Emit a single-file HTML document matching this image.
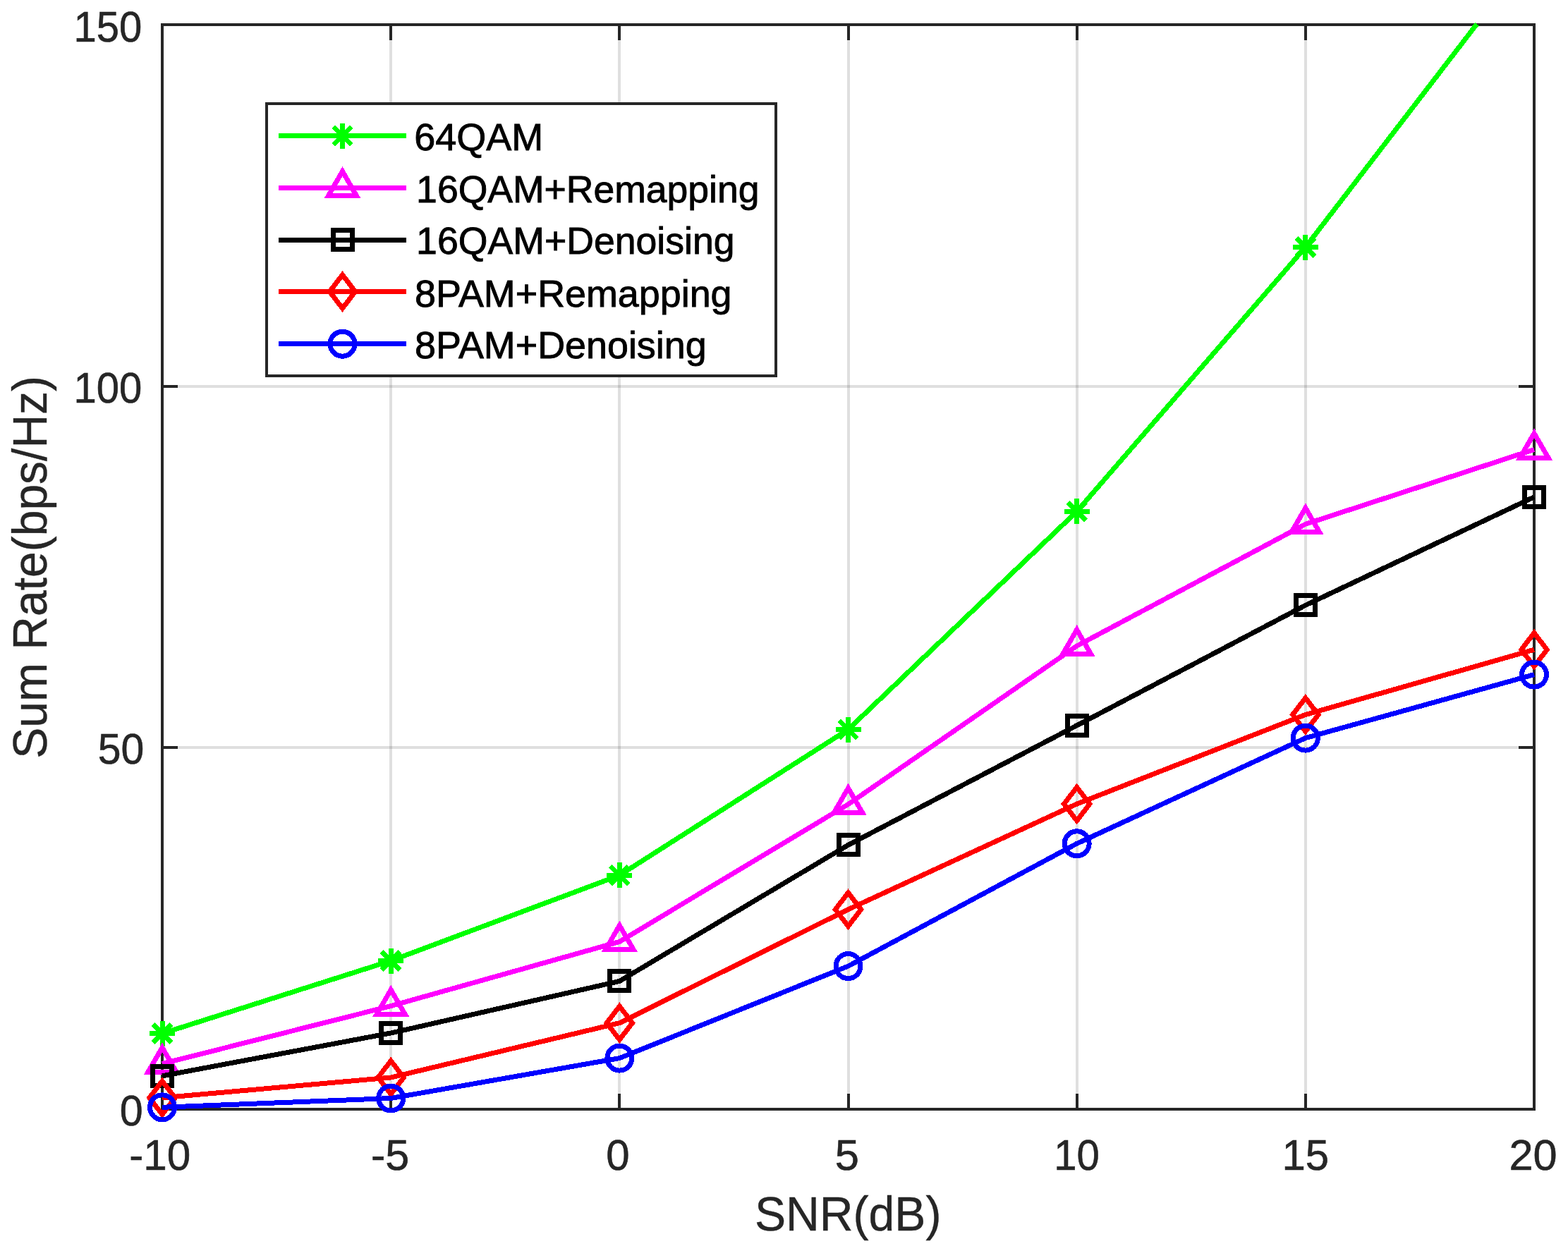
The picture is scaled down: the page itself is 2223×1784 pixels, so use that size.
<!DOCTYPE html><html><head><meta charset="utf-8"><title>Sum Rate vs SNR</title><style>html,body{margin:0;padding:0;background:#fff;overflow:hidden;}svg{display:block;}text{font-family:"Liberation Sans",Arial,Helvetica,sans-serif;}</style></head><body>
<svg width="2223" height="1784" viewBox="0 0 2223 1784">
<rect width="2223" height="1784" fill="#fff"/>
<g stroke="#262626" stroke-opacity="0.15" stroke-width="4"><line x1="554" y1="35" x2="554" y2="1573"/><line x1="878" y1="35" x2="878" y2="1573"/><line x1="1203" y1="35" x2="1203" y2="1573"/><line x1="1527" y1="35" x2="1527" y2="1573"/><line x1="1851" y1="35" x2="1851" y2="1573"/><line x1="230" y1="1060" x2="2175" y2="1060"/><line x1="230" y1="548" x2="2175" y2="548"/></g>
<path d="M554 1573V1551M554 35V57M878 1573V1551M878 35V57M1203 1573V1551M1203 35V57M1527 1573V1551M1527 35V57M1851 1573V1551M1851 35V57M230 1060H252M2175 1060H2153M230 548H252M2175 548H2153" stroke="#262626" stroke-width="4" fill="none"/>
<rect x="230" y="35" width="1945" height="1538" stroke="#262626" stroke-width="4" fill="none"/>
<g shape-rendering="crispEdges">
<path d="M230 1465.6L554.17 1362.5L878.33 1241.3L1202.5 1034.5L1526.67 725.3L1850.83 350.5L2093.84 34" stroke="#00ff00" stroke-width="7" fill="none" stroke-linejoin="round"/>
<path d="M212 1465.6H248M230 1447.6V1483.6M217.1 1452.7L242.9 1478.5M217.1 1478.5L242.9 1452.7" stroke="#00ff00" stroke-width="7" fill="none"/>
<path d="M536.17 1362.5H572.17M554.17 1344.5V1380.5M541.27 1349.6L567.07 1375.4M541.27 1375.4L567.07 1349.6" stroke="#00ff00" stroke-width="7" fill="none"/>
<path d="M860.33 1241.3H896.33M878.33 1223.3V1259.3M865.43 1228.4L891.23 1254.2M865.43 1254.2L891.23 1228.4" stroke="#00ff00" stroke-width="7" fill="none"/>
<path d="M1184.5 1034.5H1220.5M1202.5 1016.5V1052.5M1189.6 1021.6L1215.4 1047.4M1189.6 1047.4L1215.4 1021.6" stroke="#00ff00" stroke-width="7" fill="none"/>
<path d="M1508.67 725.3H1544.67M1526.67 707.3V743.3M1513.77 712.4L1539.57 738.2M1513.77 738.2L1539.57 712.4" stroke="#00ff00" stroke-width="7" fill="none"/>
<path d="M1832.83 350.5H1868.83M1850.83 332.5V368.5M1837.93 337.6L1863.73 363.4M1837.93 363.4L1863.73 337.6" stroke="#00ff00" stroke-width="7" fill="none"/>
<path d="M230 1508.5L554.17 1426.6L878.33 1335.4L1202.5 1140.6L1526.67 916L1850.83 743.3L2175 637.5" stroke="#ff00ff" stroke-width="7" fill="none" stroke-linejoin="round"/>
<path d="M230 1485.5L249.92 1520L210.08 1520Z" stroke="#ff00ff" stroke-width="7" fill="none" stroke-linejoin="miter" stroke-miterlimit="10"/>
<path d="M554.17 1403.6L574.09 1438.1L534.25 1438.1Z" stroke="#ff00ff" stroke-width="7" fill="none" stroke-linejoin="miter" stroke-miterlimit="10"/>
<path d="M878.33 1312.4L898.25 1346.9L858.41 1346.9Z" stroke="#ff00ff" stroke-width="7" fill="none" stroke-linejoin="miter" stroke-miterlimit="10"/>
<path d="M1202.5 1117.6L1222.42 1152.1L1182.58 1152.1Z" stroke="#ff00ff" stroke-width="7" fill="none" stroke-linejoin="miter" stroke-miterlimit="10"/>
<path d="M1526.67 893L1546.59 927.5L1506.75 927.5Z" stroke="#ff00ff" stroke-width="7" fill="none" stroke-linejoin="miter" stroke-miterlimit="10"/>
<path d="M1850.83 720.3L1870.75 754.8L1830.91 754.8Z" stroke="#ff00ff" stroke-width="7" fill="none" stroke-linejoin="miter" stroke-miterlimit="10"/>
<path d="M2175 614.5L2194.92 649L2155.08 649Z" stroke="#ff00ff" stroke-width="7" fill="none" stroke-linejoin="miter" stroke-miterlimit="10"/>
<path d="M230 1525.8L554.17 1465L878.33 1391.4L1202.5 1198.3L1526.67 1028.8L1850.83 858.3L2175 704.8" stroke="#000000" stroke-width="7" fill="none" stroke-linejoin="round"/>
<rect x="216.5" y="1512.3" width="27" height="27" stroke="#000000" stroke-width="7" fill="none"/>
<rect x="540.67" y="1451.5" width="27" height="27" stroke="#000000" stroke-width="7" fill="none"/>
<rect x="864.83" y="1377.9" width="27" height="27" stroke="#000000" stroke-width="7" fill="none"/>
<rect x="1189" y="1184.8" width="27" height="27" stroke="#000000" stroke-width="7" fill="none"/>
<rect x="1513.17" y="1015.3" width="27" height="27" stroke="#000000" stroke-width="7" fill="none"/>
<rect x="1837.33" y="844.8" width="27" height="27" stroke="#000000" stroke-width="7" fill="none"/>
<rect x="2161.5" y="691.3" width="27" height="27" stroke="#000000" stroke-width="7" fill="none"/>
<path d="M230 1556.8L554.17 1528L878.33 1450.7L1202.5 1289.7L1526.67 1140.1L1850.83 1013.5L2175 921.3" stroke="#ff0000" stroke-width="7" fill="none" stroke-linejoin="round"/>
<path d="M230 1533.1L248.2 1556.8L230 1580.5L211.8 1556.8Z" stroke="#ff0000" stroke-width="7" fill="none" stroke-linejoin="miter" stroke-miterlimit="10"/>
<path d="M554.17 1504.3L572.37 1528L554.17 1551.7L535.97 1528Z" stroke="#ff0000" stroke-width="7" fill="none" stroke-linejoin="miter" stroke-miterlimit="10"/>
<path d="M878.33 1427L896.53 1450.7L878.33 1474.4L860.13 1450.7Z" stroke="#ff0000" stroke-width="7" fill="none" stroke-linejoin="miter" stroke-miterlimit="10"/>
<path d="M1202.5 1266L1220.7 1289.7L1202.5 1313.4L1184.3 1289.7Z" stroke="#ff0000" stroke-width="7" fill="none" stroke-linejoin="miter" stroke-miterlimit="10"/>
<path d="M1526.67 1116.4L1544.87 1140.1L1526.67 1163.8L1508.47 1140.1Z" stroke="#ff0000" stroke-width="7" fill="none" stroke-linejoin="miter" stroke-miterlimit="10"/>
<path d="M1850.83 989.8L1869.03 1013.5L1850.83 1037.2L1832.63 1013.5Z" stroke="#ff0000" stroke-width="7" fill="none" stroke-linejoin="miter" stroke-miterlimit="10"/>
<path d="M2175 897.6L2193.2 921.3L2175 945L2156.8 921.3Z" stroke="#ff0000" stroke-width="7" fill="none" stroke-linejoin="miter" stroke-miterlimit="10"/>
<path d="M230 1570.3L554.17 1557.5L878.33 1500.6L1202.5 1370.1L1526.67 1196.3L1850.83 1046.6L2175 956.6" stroke="#0000ff" stroke-width="7" fill="none" stroke-linejoin="round"/>
<circle cx="230" cy="1570.3" r="17.5" stroke="#0000ff" stroke-width="7" fill="none"/>
<circle cx="554.17" cy="1557.5" r="17.5" stroke="#0000ff" stroke-width="7" fill="none"/>
<circle cx="878.33" cy="1500.6" r="17.5" stroke="#0000ff" stroke-width="7" fill="none"/>
<circle cx="1202.5" cy="1370.1" r="17.5" stroke="#0000ff" stroke-width="7" fill="none"/>
<circle cx="1526.67" cy="1196.3" r="17.5" stroke="#0000ff" stroke-width="7" fill="none"/>
<circle cx="1850.83" cy="1046.6" r="17.5" stroke="#0000ff" stroke-width="7" fill="none"/>
<circle cx="2175" cy="956.6" r="17.5" stroke="#0000ff" stroke-width="7" fill="none"/>
</g>
<rect x="378" y="147" width="722" height="386" fill="#fff" stroke="#262626" stroke-width="4"/>
<g shape-rendering="crispEdges">
<line x1="395" y1="192.5" x2="576" y2="192.5" stroke="#00ff00" stroke-width="7"/>
<path d="M467.5 192.5H503.5M485.5 174.5V210.5M472.6 179.6L498.4 205.4M472.6 205.4L498.4 179.6" stroke="#00ff00" stroke-width="7" fill="none"/>
<text x="587.16" y="213.4" font-size="54.5" fill="#000" textLength="182.97" lengthAdjust="spacingAndGlyphs" stroke="#000" stroke-width="0.9" shape-rendering="auto">64QAM</text>
<line x1="395" y1="266" x2="576" y2="266" stroke="#ff00ff" stroke-width="7"/>
<path d="M485.5 243L505.42 277.5L465.58 277.5Z" stroke="#ff00ff" stroke-width="7" fill="none" stroke-linejoin="miter" stroke-miterlimit="10"/>
<text x="590.12" y="286.9" font-size="54.5" fill="#000" textLength="486.43" lengthAdjust="spacingAndGlyphs" stroke="#000" stroke-width="0.9" shape-rendering="auto">16QAM+Remapping</text>
<line x1="395" y1="340" x2="576" y2="340" stroke="#000000" stroke-width="7"/>
<rect x="472" y="326.5" width="27" height="27" stroke="#000000" stroke-width="7" fill="none"/>
<text x="590.12" y="360.3" font-size="54.5" fill="#000" textLength="451.54" lengthAdjust="spacingAndGlyphs" stroke="#000" stroke-width="0.9" shape-rendering="auto">16QAM+Denoising</text>
<line x1="395" y1="413.5" x2="576" y2="413.5" stroke="#ff0000" stroke-width="7"/>
<path d="M485.5 389.8L503.7 413.5L485.5 437.2L467.3 413.5Z" stroke="#ff0000" stroke-width="7" fill="none" stroke-linejoin="miter" stroke-miterlimit="10"/>
<text x="588.08" y="434.7" font-size="54.5" fill="#000" textLength="449.46" lengthAdjust="spacingAndGlyphs" stroke="#000" stroke-width="0.9" shape-rendering="auto">8PAM+Remapping</text>
<line x1="395" y1="487.7" x2="576" y2="487.7" stroke="#0000ff" stroke-width="7"/>
<circle cx="485.5" cy="487.7" r="17.5" stroke="#0000ff" stroke-width="7" fill="none"/>
<text x="588.08" y="508.1" font-size="54.5" fill="#000" textLength="413.56" lengthAdjust="spacingAndGlyphs" stroke="#000" stroke-width="0.9" shape-rendering="auto">8PAM+Denoising</text>
</g>
<text x="183.32" y="1658.6" font-size="61" fill="#262626" textLength="87.03" lengthAdjust="spacingAndGlyphs" stroke="#262626" stroke-width="0.6">-10</text>
<text x="525.88" y="1658.6" font-size="61" fill="#262626" textLength="54.39" lengthAdjust="spacingAndGlyphs" stroke="#262626" stroke-width="0.6">-5</text>
<text x="859.25" y="1658.6" font-size="61" fill="#262626" textLength="33.39" lengthAdjust="spacingAndGlyphs" stroke="#262626" stroke-width="0.6">0</text>
<text x="1183.83" y="1658.6" font-size="61" fill="#262626" textLength="34.25" lengthAdjust="spacingAndGlyphs" stroke="#262626" stroke-width="0.6">5</text>
<text x="1494.18" y="1658.6" font-size="61" fill="#262626" textLength="64.59" lengthAdjust="spacingAndGlyphs" stroke="#262626" stroke-width="0.6">10</text>
<text x="1817.53" y="1658.6" font-size="61" fill="#262626" textLength="66.68" lengthAdjust="spacingAndGlyphs" stroke="#262626" stroke-width="0.6">15</text>
<text x="2139.52" y="1658.6" font-size="61" fill="#262626" textLength="68.18" lengthAdjust="spacingAndGlyphs" stroke="#262626" stroke-width="0.6">20</text>
<text x="169.69" y="1596.4" font-size="61" fill="#262626" textLength="32.93" lengthAdjust="spacingAndGlyphs" stroke="#262626" stroke-width="0.6">0</text>
<text x="138.64" y="1083.4" font-size="61" fill="#262626" textLength="65.56" lengthAdjust="spacingAndGlyphs" stroke="#262626" stroke-width="0.6">50</text>
<text x="104.38" y="570.9" font-size="61" fill="#262626" textLength="96.78" lengthAdjust="spacingAndGlyphs" stroke="#262626" stroke-width="0.6">100</text>
<text x="104.38" y="59" font-size="61" fill="#262626" textLength="96.78" lengthAdjust="spacingAndGlyphs" stroke="#262626" stroke-width="0.6">150</text>
<text x="1070" y="1744.6" font-size="68" fill="#262626" textLength="264.5" lengthAdjust="spacingAndGlyphs" stroke="#262626" stroke-width="0.4">SNR(dB)</text>
<text transform="translate(65.9 1072.8) rotate(-90)" x="-3" y="0" font-size="68" fill="#262626" stroke="#262626" stroke-width="0.4" textLength="542.89" lengthAdjust="spacingAndGlyphs">Sum Rate(bps/Hz)</text>
</svg></body></html>
